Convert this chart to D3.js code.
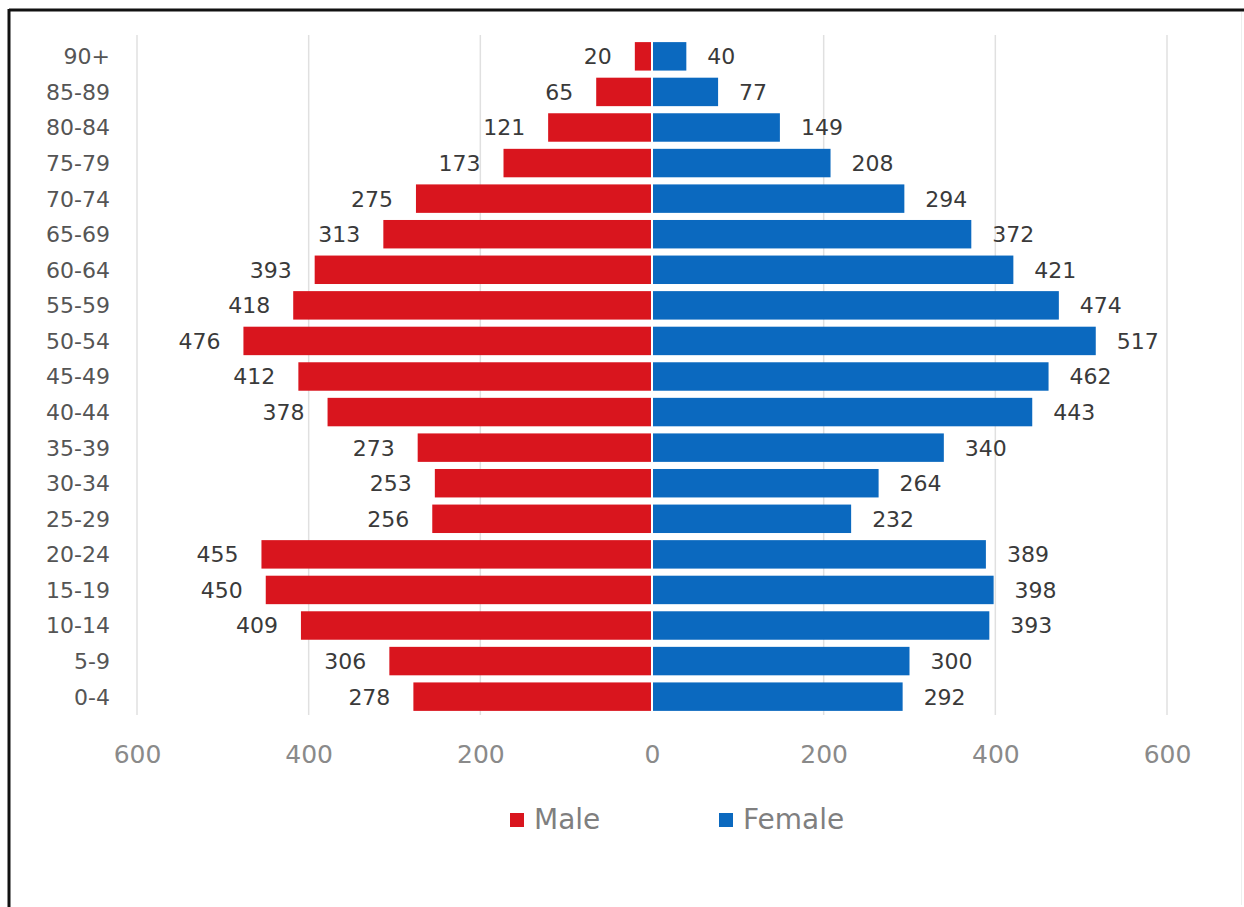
<!DOCTYPE html>
<html>
<head>
<meta charset="utf-8">
<script src="https://cdn.jsdelivr.net/npm/d3@7"></script>
<style>
  body { margin: 0; background: #fff; overflow: hidden; }
  svg { display: block; font-family: "DejaVu Sans", sans-serif; }
</style>
</head>
<body>
<svg id="chart" width="1244" height="907"></svg>
<script>
const ageGroups = ["0-4", "5-9", "10-14", "15-19", "20-24", "25-29", "30-34", "35-39", "40-44", "45-49",
                   "50-54", "55-59", "60-64", "65-69", "70-74", "75-79", "80-84", "85-89", "90+"];
const male   = [278, 306, 409, 450, 455, 256, 253, 273, 378, 412, 476, 418, 393, 313, 275, 173, 121, 65, 20];
const female = [292, 300, 393, 398, 389, 232, 264, 340, 443, 462, 517, 474, 421, 372, 294, 208, 149, 77, 40];
const tickValues = [-600, -400, -200, 0, 200, 400, 600];

const maleColor = "#d9151e";
const femaleColor = "#0b69bf";

const data = ageGroups.map((g, i) => ({ group: g, M: male[i], F: female[i] }));

const svg = d3.select("#chart");

// frame (cropped screenshot border)
svg.append("rect").attr("x", 0).attr("y", 0).attr("width", 1244).attr("height", 907).attr("fill", "#fff");
svg.append("line").attr("x1", 9).attr("x2", 1244).attr("y1", 10).attr("y2", 10)
    .attr("stroke", "#111").attr("stroke-width", 3);
svg.append("line").attr("x1", 9).attr("x2", 9).attr("y1", 9).attr("y2", 907)
    .attr("stroke", "#111").attr("stroke-width", 3);
svg.append("line").attr("x1", 1241.5).attr("x2", 1241.5).attr("y1", 12).attr("y2", 905)
    .attr("stroke", "#eeeeee").attr("stroke-width", 1);

const x = d3.scaleLinear()
    .domain([-600, 600])
    .range([137, 1167]);

const y = d3.scaleBand()
    .domain([...ageGroups].reverse())
    .range([35, 718])
    .padding(0.2);

const center = x(0);

// gridlines
svg.append("g")
    .selectAll("line")
    .data(tickValues.filter(d => d !== 0))
    .join("line")
    .attr("x1", d => x(d)).attr("x2", d => x(d))
    .attr("y1", 35).attr("y2", 715)
    .attr("stroke", "#e0e0e0")
    .attr("stroke-width", 1.5);

// x axis labels
const xAxis = svg.append("g")
    .attr("transform", "translate(0, 745)")
    .call(d3.axisBottom(x).tickValues(tickValues).tickFormat(d => Math.abs(d)).tickSize(0).tickPadding(0))
    .call(g => g.select(".domain").remove());
xAxis.selectAll("text")
    .attr("dy", "0.72em")
    .style("font-family", "'DejaVu Sans', sans-serif")
    .style("font-size", "25px")
    .style("fill", "#8a8a8a");

// y axis labels
const yAxis = svg.append("g")
    .attr("transform", "translate(110, 0)")
    .call(d3.axisLeft(y).tickSize(0).tickPadding(0))
    .call(g => g.select(".domain").remove());
yAxis.selectAll("text")
    .attr("dy", "0.36em")
    .style("font-family", "'DejaVu Sans', sans-serif")
    .style("font-size", "22px")
    .style("fill", "#555");

const rows = svg.append("g")
    .selectAll("g")
    .data(data)
    .join("g")
    .attr("transform", d => `translate(0, ${y(d.group)})`);

// male bars
rows.append("rect")
    .attr("x", d => x(-d.M))
    .attr("width", d => center - x(-d.M) - 1)
    .attr("height", y.bandwidth())
    .attr("fill", maleColor);

// female bars
rows.append("rect")
    .attr("x", center + 1)
    .attr("width", d => x(d.F) - center - 1)
    .attr("height", y.bandwidth())
    .attr("fill", femaleColor);

// value labels
rows.append("text")
    .attr("x", d => x(-d.M) - 23)
    .attr("y", y.bandwidth() / 2)
    .attr("dy", "0.36em")
    .attr("text-anchor", "end")
    .style("font-size", "22px")
    .style("fill", "#3a3a3a")
    .text(d => d.M);

rows.append("text")
    .attr("x", d => x(d.F) + 21)
    .attr("y", y.bandwidth() / 2)
    .attr("dy", "0.36em")
    .attr("text-anchor", "start")
    .style("font-size", "22px")
    .style("fill", "#3a3a3a")
    .text(d => d.F);

// legend
const legend = svg.append("g");
const items = [
    { label: "Male", color: maleColor, x: 510 },
    { label: "Female", color: femaleColor, x: 719 }
];
items.forEach(it => {
    legend.append("rect")
        .attr("x", it.x).attr("y", 813)
        .attr("width", 14).attr("height", 14)
        .attr("fill", it.color);
    legend.append("text")
        .attr("x", it.x + 24).attr("y", 829)
        .style("font-size", "28px")
        .style("fill", "#7f7f7f")
        .text(it.label);
});
</script>
</body>
</html>
